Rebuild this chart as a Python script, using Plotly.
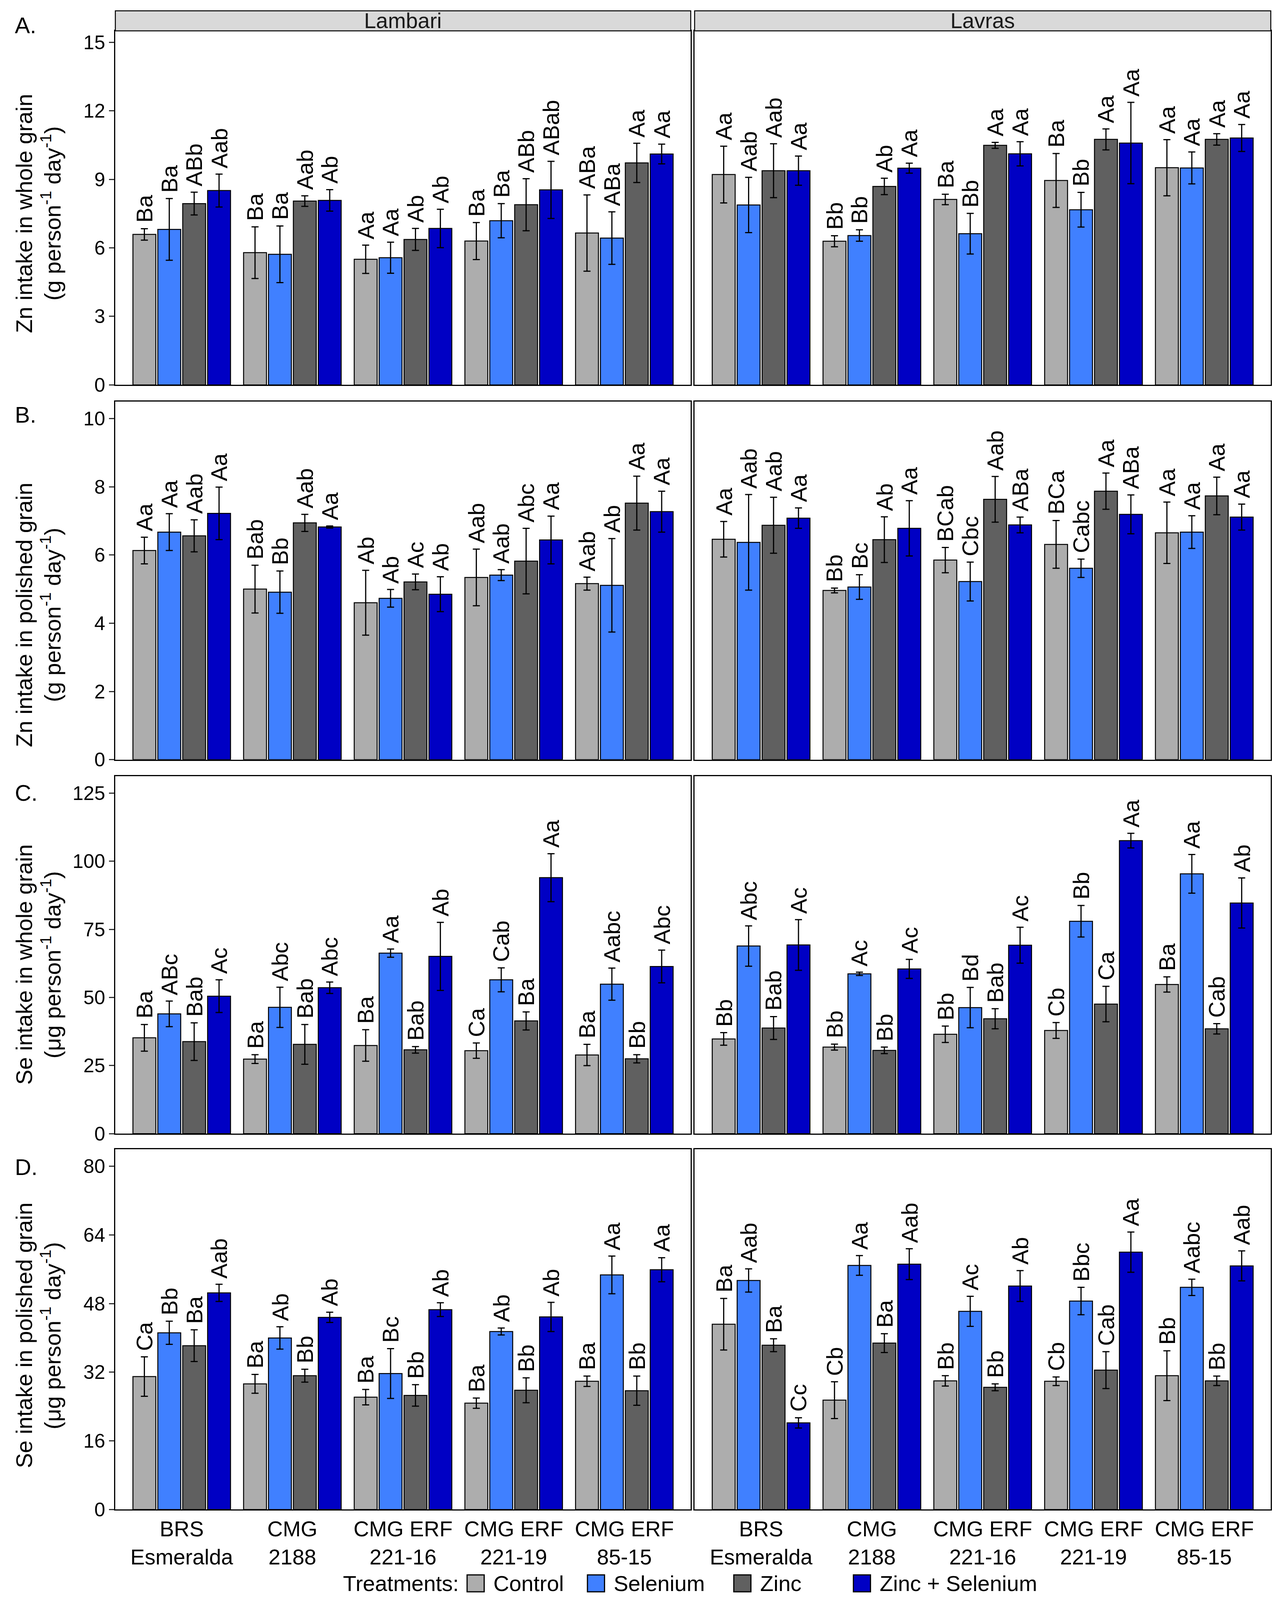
import plotly.graph_objects as go

W, H = 3287, 4529

GENOTYPES = ["BRS Esmeralda", "CMG 2188", "CMG ERF 221-16", "CMG ERF 221-19", "CMG ERF 85-15"]
TICK_TEXT = ["BRS<br>Esmeralda", "CMG<br>2188", "CMG ERF<br>221-16", "CMG ERF<br>221-19", "CMG ERF<br>85-15"]
TREATMENTS = ["Control", "Selenium", "Zinc", "Zinc + Selenium"]
COLORS = ["#ADADAD", "#4080FF", "#606060", "#0000C4"]
SITES = ["Lambari", "Lavras"]

# ---- Panel A: Zn intake in whole grain (rows: Control, Selenium, Zinc, Zinc+Se) ----
A_LAMBARI_MEAN = [[6.59, 5.79, 5.50, 6.30, 6.65],
                  [6.81, 5.72, 5.57, 7.19, 6.43],
                  [7.94, 8.05, 6.37, 7.89, 9.72],
                  [8.51, 8.08, 6.85, 8.54, 10.11]]
A_LAMBARI_ERR = [[0.25, 1.13, 0.62, 0.81, 1.67],
                 [1.35, 1.24, 0.68, 0.75, 1.15],
                 [0.50, 0.23, 0.48, 1.14, 0.86],
                 [0.72, 0.47, 0.84, 1.25, 0.43]]
A_LAMBARI_LAB = [["Ba", "Ba", "Aa", "Ba", "ABa"],
                 ["Ba", "Ba", "Aa", "Ba", "ABa"],
                 ["ABb", "Aab", "Ab", "ABb", "Aa"],
                 ["Aab", "Ab", "Ab", "ABab", "Aa"]]
A_LAVRAS_MEAN = [[9.21, 6.29, 8.12, 8.95, 9.51],
                 [7.88, 6.54, 6.62, 7.67, 9.50],
                 [9.38, 8.69, 10.49, 10.75, 10.75],
                 [9.38, 9.49, 10.12, 10.59, 10.81]]
A_LAVRAS_ERR = [[1.24, 0.24, 0.23, 1.18, 1.23],
                [1.21, 0.25, 0.89, 0.76, 0.70],
                [1.18, 0.36, 0.13, 0.46, 0.25],
                [0.64, 0.22, 0.53, 1.78, 0.59]]
A_LAVRAS_LAB = [["Aa", "Bb", "Ba", "Ba", "Aa"],
                ["Aab", "Bb", "Bb", "Bb", "Aa"],
                ["Aab", "Ab", "Aa", "Aa", "Aa"],
                ["Aa", "Aa", "Aa", "Aa", "Aa"]]

# ---- Panel B: Zn intake in polished grain ----
B_LAMBARI_MEAN = [[6.13, 5.00, 4.60, 5.34, 5.16],
                  [6.67, 4.91, 4.73, 5.41, 5.11],
                  [6.56, 6.94, 5.21, 5.82, 7.52],
                  [7.22, 6.82, 4.85, 6.44, 7.27]]
B_LAMBARI_ERR = [[0.39, 0.70, 0.95, 0.83, 0.19],
                 [0.54, 0.62, 0.26, 0.16, 1.37],
                 [0.47, 0.25, 0.23, 0.96, 0.79],
                 [0.77, 0.03, 0.51, 0.70, 0.60]]
B_LAMBARI_LAB = [["Aa", "Bab", "Ab", "Aab", "Aab"],
                 ["Aa", "Bb", "Ab", "Aab", "Ab"],
                 ["Aab", "Aab", "Ac", "Abc", "Aa"],
                 ["Aa", "Aa", "Ab", "Aa", "Aa"]]
B_LAVRAS_MEAN = [[6.46, 4.96, 5.85, 6.31, 6.65],
                 [6.37, 5.06, 5.22, 5.61, 6.67],
                 [6.87, 6.45, 7.63, 7.87, 7.73],
                 [7.08, 6.78, 6.88, 7.19, 7.11]]
B_LAVRAS_ERR = [[0.52, 0.07, 0.37, 0.70, 0.90],
                [1.40, 0.36, 0.57, 0.27, 0.48],
                [0.82, 0.67, 0.67, 0.53, 0.55],
                [0.30, 0.81, 0.23, 0.57, 0.38]]
B_LAVRAS_LAB = [["Aa", "Bb", "BCab", "BCa", "Aa"],
                ["Aab", "Bc", "Cbc", "Cabc", "Aa"],
                ["Aab", "Ab", "Aab", "Aa", "Aa"],
                ["Aa", "Aa", "ABa", "ABa", "Aa"]]

# ---- Panel C: Se intake in whole grain ----
C_LAMBARI_MEAN = [[35.2, 27.4, 32.4, 30.5, 28.9],
                  [44.0, 46.4, 66.3, 56.5, 54.9],
                  [33.8, 32.8, 30.8, 41.4, 27.5],
                  [50.5, 53.6, 65.1, 94.0, 61.4]]
C_LAMBARI_ERR = [[4.9, 1.6, 5.8, 2.8, 3.9],
                 [4.7, 7.4, 1.5, 4.4, 5.9],
                 [6.9, 7.3, 1.2, 3.3, 1.5],
                 [6.0, 2.1, 12.5, 8.8, 6.0]]
C_LAMBARI_LAB = [["Ba", "Ba", "Ba", "Ca", "Ba"],
                 ["ABc", "Abc", "Aa", "Cab", "Aabc"],
                 ["Bab", "Bab", "Bab", "Ba", "Bb"],
                 ["Ac", "Abc", "Ab", "Aa", "Abc"]]
C_LAVRAS_MEAN = [[34.8, 31.8, 36.5, 37.9, 54.8],
                 [68.9, 58.7, 46.3, 78.0, 95.4],
                 [38.8, 30.6, 42.2, 47.6, 38.5],
                 [69.3, 60.5, 69.2, 107.6, 84.7]]
C_LAVRAS_ERR = [[2.3, 1.1, 3.0, 2.9, 2.8],
                [7.4, 0.6, 7.4, 5.8, 7.1],
                [4.2, 1.2, 3.7, 6.5, 1.9],
                [9.3, 3.5, 6.6, 2.7, 9.2]]
C_LAVRAS_LAB = [["Bb", "Bb", "Bb", "Cb", "Ba"],
                ["Abc", "Ac", "Bd", "Bb", "Aa"],
                ["Bab", "Bb", "Bab", "Ca", "Cab"],
                ["Ac", "Ac", "Ac", "Aa", "Ab"]]

# ---- Panel D: Se intake in polished grain ----
D_LAMBARI_MEAN = [[31.0, 29.3, 26.2, 24.8, 29.9],
                  [41.2, 40.0, 31.7, 41.5, 54.7],
                  [38.2, 31.2, 26.6, 27.8, 27.7],
                  [50.5, 44.8, 46.6, 44.9, 55.9]]
D_LAMBARI_ERR = [[4.6, 2.2, 1.8, 1.2, 1.2],
                 [2.7, 2.6, 5.8, 0.8, 4.4],
                 [3.7, 1.5, 2.5, 2.9, 3.4],
                 [2.0, 1.2, 1.6, 3.4, 2.8]]
D_LAMBARI_LAB = [["Ca", "Ba", "Ba", "Ba", "Ba"],
                 ["Bb", "Ab", "Bc", "Ab", "Aa"],
                 ["Ba", "Bb", "Bb", "Bb", "Bb"],
                 ["Aab", "Ab", "Ab", "Ab", "Aa"]]
D_LAVRAS_MEAN = [[43.2, 25.5, 30.0, 29.9, 31.2],
                 [53.4, 56.9, 46.2, 48.6, 51.8],
                 [38.3, 38.8, 28.5, 32.5, 30.0],
                 [20.2, 57.2, 52.1, 60.0, 56.8]]
D_LAVRAS_ERR = [[6.0, 4.3, 1.2, 1.0, 5.8],
                [2.7, 2.3, 3.5, 3.2, 1.9],
                [1.5, 2.2, 0.8, 4.3, 1.1],
                [1.2, 3.6, 3.6, 4.7, 3.5]]
D_LAVRAS_LAB = [["Ba", "Cb", "Bb", "Cb", "Bb"],
                ["Aab", "Aa", "Ac", "Bbc", "Aabc"],
                ["Ba", "Ba", "Bb", "Cab", "Bb"],
                ["Cc", "Aab", "Ab", "Aa", "Aab"]]

PANEL_LETTERS = ["A.", "B.", "C.", "D."]
Y_TITLE_1 = ["Zn intake in whole grain", "Zn intake in polished grain",
             "Se intake in whole grain", "Se intake in polished grain"]
Y_TITLE_2 = ["(g person<sup>-1</sup> day<sup>-1</sup>)", "(g person<sup>-1</sup> day<sup>-1</sup>)",
             "(μg person<sup>-1</sup> day<sup>-1</sup>)", "(μg person<sup>-1</sup> day<sup>-1</sup>)"]
Y_MAX = [15.5, 10.5, 131.25, 84]
Y_TICKS = [[0, 3, 6, 9, 12, 15], [0, 2, 4, 6, 8, 10],
           [0, 25, 50, 75, 100, 125], [0, 16, 32, 48, 64, 80]]

PANELS = [
    [(A_LAMBARI_MEAN, A_LAMBARI_ERR, A_LAMBARI_LAB), (A_LAVRAS_MEAN, A_LAVRAS_ERR, A_LAVRAS_LAB)],
    [(B_LAMBARI_MEAN, B_LAMBARI_ERR, B_LAMBARI_LAB), (B_LAVRAS_MEAN, B_LAVRAS_ERR, B_LAVRAS_LAB)],
    [(C_LAMBARI_MEAN, C_LAMBARI_ERR, C_LAMBARI_LAB), (C_LAVRAS_MEAN, C_LAVRAS_ERR, C_LAVRAS_LAB)],
    [(D_LAMBARI_MEAN, D_LAMBARI_ERR, D_LAMBARI_LAB), (D_LAVRAS_MEAN, D_LAVRAS_ERR, D_LAVRAS_LAB)],
]

# ---- layout geometry (reference pixels, converted to paper fractions) ----
COL_PX = [(289, 1771), (1781, 3265)]
ROW_PX = [(79, 1086), (1133, 2152), (2199, 3216), (3260, 4285)]
STRIP_PX = (22, 79)
LETTER_TOP_PX = [25, 1132, 2208, 3272]
YTITLE_CENTER_PX = [598, 1740, 2735, 3790]

BARGAP = 0.1
BARGROUPGAP = 0.08
FONT = "Liberation Sans, Arial, sans-serif"


def px_x(p):
    return p / W


def px_y(p):
    return 1 - p / H


fig = go.Figure()
annotations = []
shapes = []
layout_axes = {}

slot = (1 - BARGAP) / len(TREATMENTS)

for r in range(4):
    for c in range(2):
        idx = r * 2 + c + 1
        xa, ya = f"x{idx}", f"y{idx}"
        means, errs, labs = PANELS[r][c]
        for t, name in enumerate(TREATMENTS):
            fig.add_trace(go.Bar(
                x=GENOTYPES, y=means[t], name=name,
                xaxis=xa, yaxis=ya, showlegend=False,
                marker=dict(color=COLORS[t], line=dict(color="#000000", width=2.5)),
                error_y=dict(type="data", array=errs[t], visible=True,
                             color="#000000", thickness=3, width=9),
            ))
            for g in range(len(GENOTYPES)):
                annotations.append(dict(
                    x=g + (t - 1.5) * slot, y=means[t][g] + errs[t][g],
                    xref=xa, yref=ya, text=labs[t][g], textangle=-90,
                    showarrow=False, xanchor="center", yanchor="bottom", yshift=13,
                    font=dict(family=FONT, size=58, color="#000000"),
                ))
        xkey = "xaxis" if idx == 1 else f"xaxis{idx}"
        ykey = "yaxis" if idx == 1 else f"yaxis{idx}"
        layout_axes[xkey] = dict(
            domain=[px_x(COL_PX[c][0]), px_x(COL_PX[c][1])],
            anchor=ya, type="category", categoryorder="array", categoryarray=GENOTYPES,
            range=[-0.6, 4.6], showgrid=False, zeroline=False,
            showline=True, mirror=True, linecolor="#000000", linewidth=3,
            ticks="", tickmode="array", tickvals=GENOTYPES, ticktext=TICK_TEXT,
            showticklabels=(r == 3),
            tickfont=dict(family=FONT, size=55, color="#000000"),
        )
        layout_axes[ykey] = dict(
            domain=[px_y(ROW_PX[r][1]), px_y(ROW_PX[r][0])],
            anchor=xa, range=[0, Y_MAX[r]], showgrid=False, zeroline=False,
            showline=True, mirror=True, linecolor="#000000", linewidth=3,
            tickmode="array", tickvals=Y_TICKS[r],
            ticks="outside" if c == 0 else "", ticklen=13, tickwidth=3, tickcolor="#333333",
            showticklabels=(c == 0),
            tickfont=dict(family=FONT, size=50, color="#000000"),
        )

    # panel letter
    annotations.append(dict(
        x=px_x(28), y=px_y(LETTER_TOP_PX[r]), xref="paper", yref="paper",
        text=PANEL_LETTERS[r], showarrow=False, xanchor="left", yanchor="top",
        font=dict(family=FONT, size=58, color="#000000"),
    ))
    # y axis titles (two lines)
    annotations.append(dict(
        x=px_x(54), y=px_y(YTITLE_CENTER_PX[r]), xref="paper", yref="paper",
        text=Y_TITLE_1[r], textangle=-90, showarrow=False,
        xanchor="center", yanchor="middle",
        font=dict(family=FONT, size=58, color="#000000"),
    ))
    annotations.append(dict(
        x=px_x(123), y=px_y(YTITLE_CENTER_PX[r]), xref="paper", yref="paper",
        text=Y_TITLE_2[r], textangle=-90, showarrow=False,
        xanchor="center", yanchor="middle",
        font=dict(family=FONT, size=58, color="#000000"),
    ))

# facet strips
for c, site in enumerate(SITES):
    shapes.append(dict(
        type="rect", xref="paper", yref="paper",
        x0=px_x(COL_PX[c][0]), x1=px_x(COL_PX[c][1]),
        y0=px_y(STRIP_PX[1]), y1=px_y(STRIP_PX[0]),
        fillcolor="#D9D9D9", line=dict(color="#000000", width=2.5),
    ))
    annotations.append(dict(
        x=px_x((COL_PX[c][0] + COL_PX[c][1]) / 2), y=px_y(sum(STRIP_PX) / 2),
        xref="paper", yref="paper", text=site, showarrow=False,
        xanchor="center", yanchor="middle",
        font=dict(family=FONT, size=55, color="#1A1A1A"),
    ))

# legend (drawn as keys + labels)
LEG_Y = 4495
LEG_KEY_X = [1195, 1505, 1882, 2190]
annotations.append(dict(
    x=px_x(1176), y=px_y(LEG_Y), xref="paper", yref="paper", text="Treatments:",
    showarrow=False, xanchor="right", yanchor="middle",
    font=dict(family=FONT, size=56, color="#000000"),
))
for t, name in enumerate(TREATMENTS):
    shapes.append(dict(
        type="rect", xref="paper", yref="paper",
        x0=px_x(LEG_KEY_X[t]), x1=px_x(LEG_KEY_X[t] + 44),
        y0=px_y(LEG_Y + 24), y1=px_y(LEG_Y - 24),
        fillcolor=COLORS[t], line=dict(color="#000000", width=3),
    ))
    annotations.append(dict(
        x=px_x(LEG_KEY_X[t] + 66), y=px_y(LEG_Y), xref="paper", yref="paper",
        text=name, showarrow=False, xanchor="left", yanchor="middle",
        font=dict(family=FONT, size=56, color="#000000"),
    ))

fig.update_layout(
    autosize=True,
    margin=dict(l=0, r=0, t=0, b=0, autoexpand=False),
    paper_bgcolor="#FFFFFF", plot_bgcolor="#FFFFFF",
    barmode="group", bargap=BARGAP, bargroupgap=BARGROUPGAP,
    font=dict(family=FONT, size=50, color="#000000"),
    annotations=annotations, shapes=shapes,
    showlegend=False,
    **layout_axes,
)

fig.write_html("out.html", default_width="calc(100vw - 20px)",
               default_height="calc(100vh - 20px)", config={"responsive": True})
